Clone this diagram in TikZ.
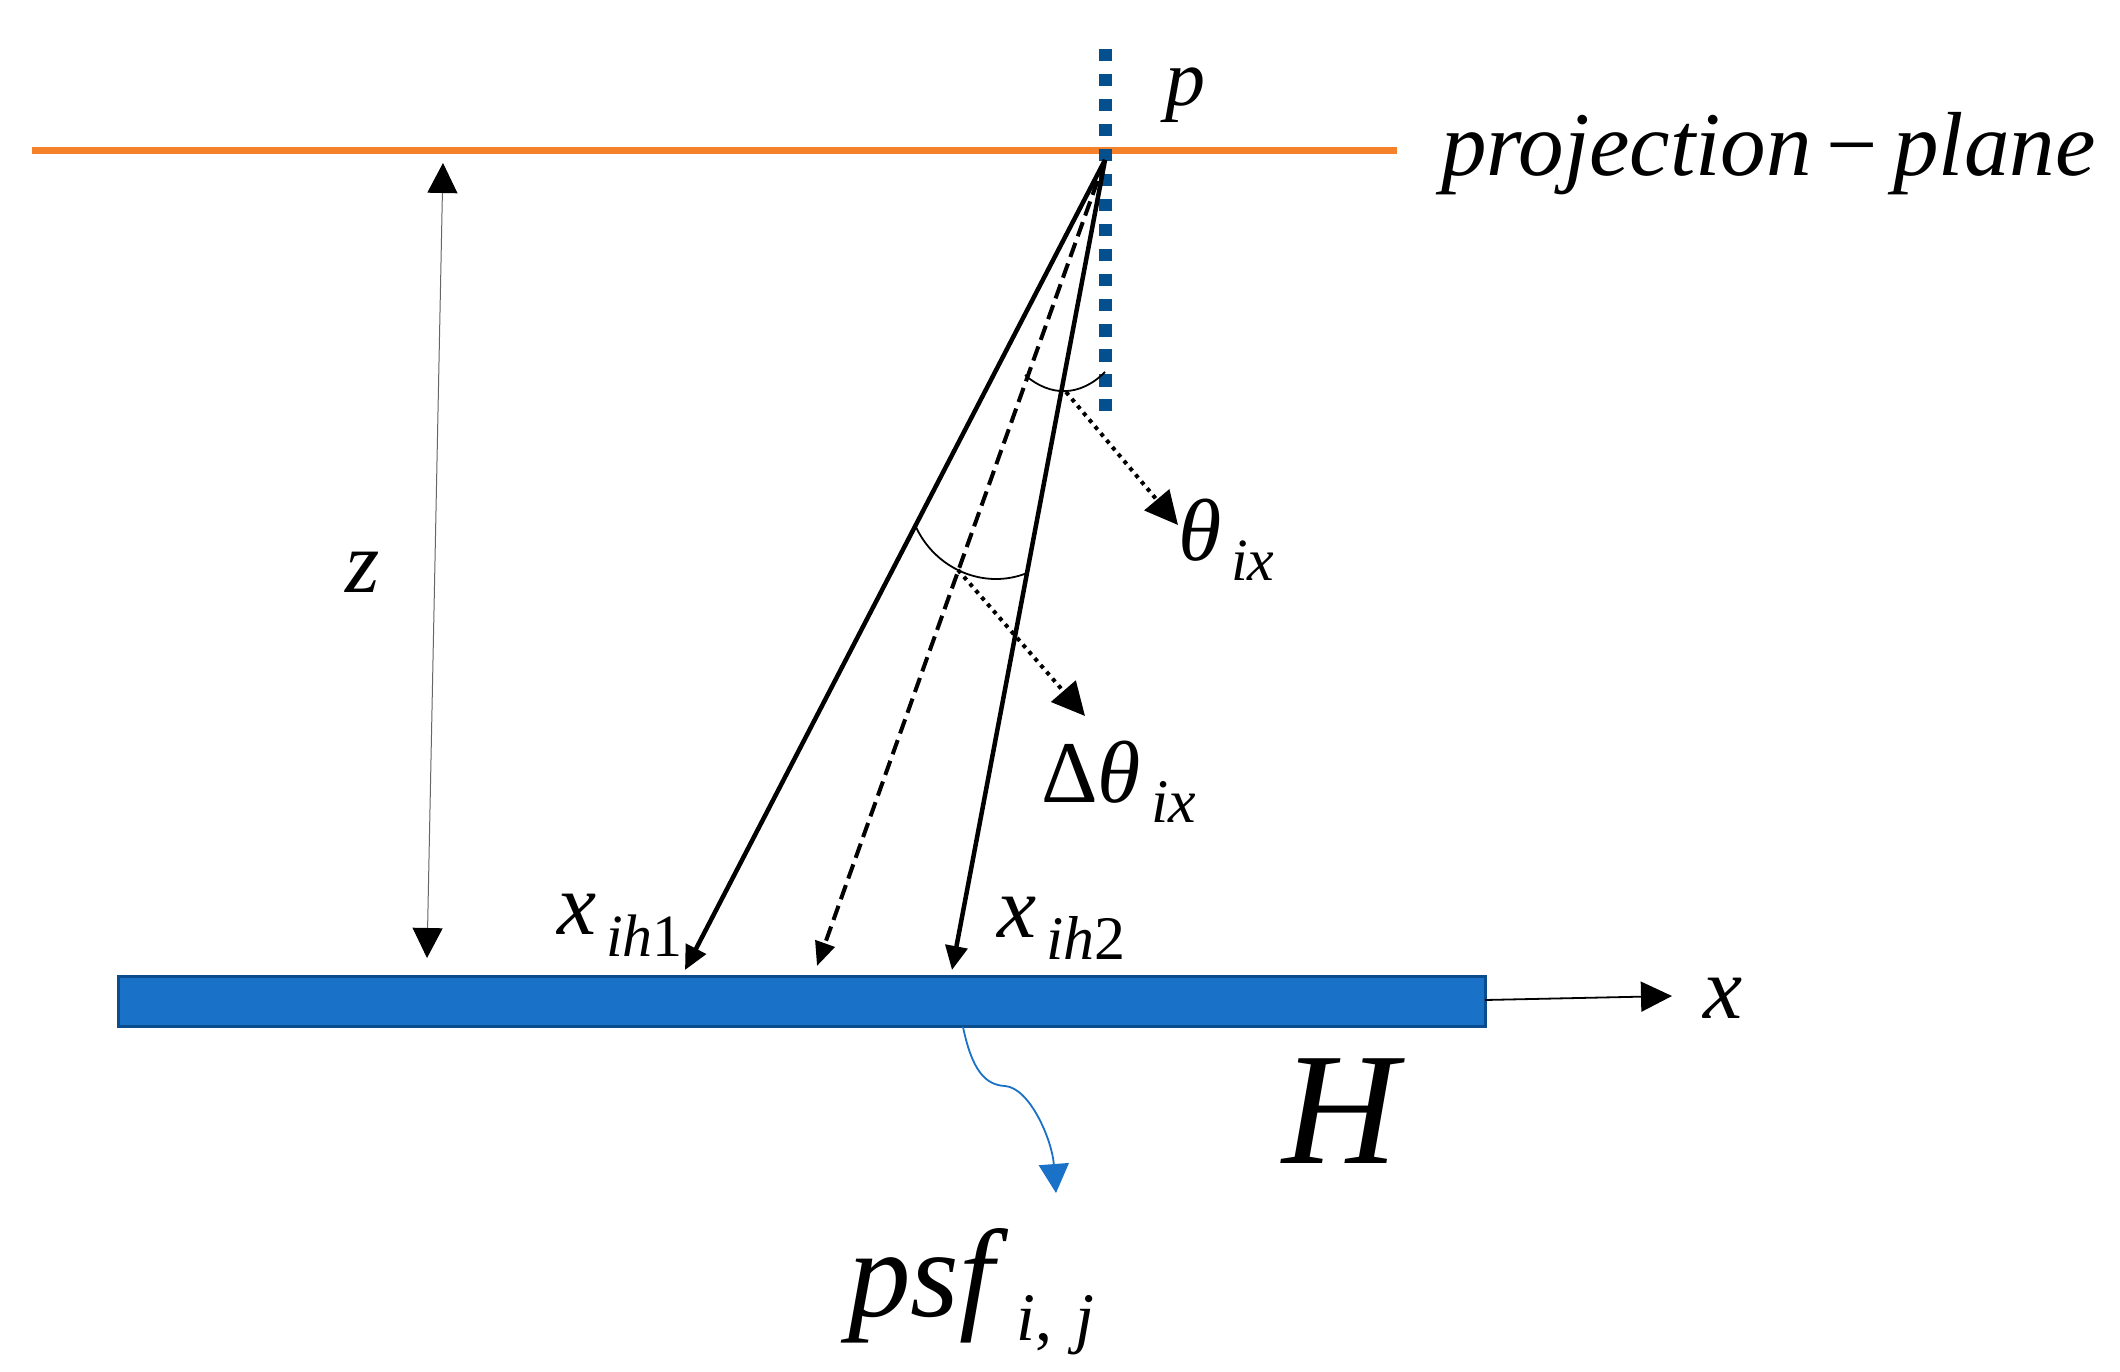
\documentclass[tikz,border=0pt]{standalone}
\usepackage{fontspec}
\setmainfont{Liberation Serif}
\usetikzlibrary{arrows.meta}
\definecolor{planeor}{HTML}{F5822A}
\definecolor{dotblue}{HTML}{04508F}
\definecolor{barblue}{HTML}{1971C8}
\definecolor{baredge}{HTML}{0B4C8C}
\newcommand{\fsz}[1]{\fontsize{#1}{#1}\selectfont}
\newcommand{\subtxt}[3]{\raisebox{#1}{\fsz{#2}#3}}
\tikzset{
  lab/.style={anchor=base west,inner sep=0pt,outer sep=0pt,font=\itshape},
  ray/.style={line width=4.5pt,-{Triangle[length=24pt,width=22pt]}},
  raydash/.style={line width=4pt,dash pattern=on 15pt off 7pt,-{Triangle[length=24pt,width=20pt]}},
  leader/.style={line width=4pt,dash pattern=on 4pt off 5pt,-{Triangle[length=33pt,width=32pt]}},
  arcline/.style={line width=1.8pt},
  dimline/.style={line width=1pt,draw=black!60,{Triangle[length=30pt,width=30pt,black]}-{Triangle[length=30pt,width=30pt,black]}},
  axisline/.style={line width=1.8pt,-{Triangle[length=31pt,width=30pt]}},
  bluecurve/.style={line width=1.8pt,draw=barblue,-{Triangle[length=29pt,width=30pt,fill=barblue]}}
}
\begin{document}
\begin{tikzpicture}[x=1pt,y=-1pt]
\useasboundingbox (0,0) rectangle (2120,1372);
\coordinate (pl) at (32,151);
\coordinate (pr) at (1397,151);
\coordinate (pt) at (1105,49);
\coordinate (pb) at (1105,411);
\coordinate (apex) at (1105,160);
\coordinate (t1) at (685,970);
\coordinate (t2) at (817,966);
\coordinate (t3) at (952,970);
\coordinate (zt) at (443,163);
\coordinate (zb) at (427,958);
\coordinate (arcAa) at (1025,375);
\coordinate (arcAb) at (1105,372);
\coordinate (arcBa) at (915,525);
\coordinate (arcBb) at (1027,573);
\coordinate (leadA) at (1066,392);
\coordinate (leadAt) at (1178,525);
\coordinate (leadB) at (958,570);
\coordinate (leadBt) at (1085,716);
\coordinate (xs) at (1485,1000);
\coordinate (xe) at (1672,996);
\coordinate (cs) at (963,1027);
\coordinate (ce) at (1056,1193);
\draw[line width=7pt,planeor] (pl) -- (pr);
\draw[line width=13pt,dotblue,dash pattern=on 12.5pt off 12.5pt] (pt) -- (pb);
\node[draw=baredge,line width=3pt,fill=barblue,minimum width=1367pt,minimum height=50pt,inner sep=0pt,anchor=north west] (bar) at (117,975) {};
\draw[ray] (apex) -- (t1);
\draw[raydash] (apex) -- (t2);
\draw[ray] (apex) -- (t3);
\draw[arcline] (arcAa) .. controls (1050,397) and (1080,397) .. (arcAb);
\draw[arcline] (arcBa) .. controls (935,570) and (985,590) .. (arcBb);
\draw[leader] (leadA) -- (leadAt);
\draw[leader] (leadB) -- (leadBt);
\draw[dimline] (zt) -- (zb);
\draw[axisline] (xs) -- (xe);
\draw[bluecurve] (cs) .. controls (972,1070) and (985,1085) .. (1005,1086) .. controls (1030,1088) and (1052,1140) .. (ce);
\node[lab,font=\itshape\fsz{80}] (lp) at (1165,106) {p};
\node[lab,font=\itshape\fsz{91}] (lproj) at (1441,176) {projection\,{\normalfont−}\,plane};
\node[lab,font=\itshape\fsz{88}] (lz) at (345,592) {z};
\node[lab,font=\itshape\fsz{88}] (ltheta) at (1178,560) {θ\subtxt{-20pt}{60}{\,ix}};
\node[lab,font=\itshape\fsz{88}] (ldtheta) at (1041,802) {{\normalfont Δ}θ\subtxt{-20pt}{62}{\,ix}};
\node[lab,font=\itshape\fsz{88}] (lx1) at (557,934) {x\subtxt{-22pt}{60}{\,ih{\normalfont 1}}};
\node[lab,font=\itshape\fsz{88}] (lx2) at (997,937) {x\subtxt{-22pt}{62}{\,ih{\normalfont 2}}};
\node[lab,font=\itshape\fsz{88}] (lx) at (1703,1018) {x};
\node[lab,font=\itshape\fsz{160}] (lH) at (1282,1163) {H};
\node[lab,font=\itshape\fsz{125}] (lpsf) at (848,1316) {psf\subtxt{-24pt}{68}{\,\,i{\normalfont ,}\,\,j}};
\end{tikzpicture}
\end{document}
